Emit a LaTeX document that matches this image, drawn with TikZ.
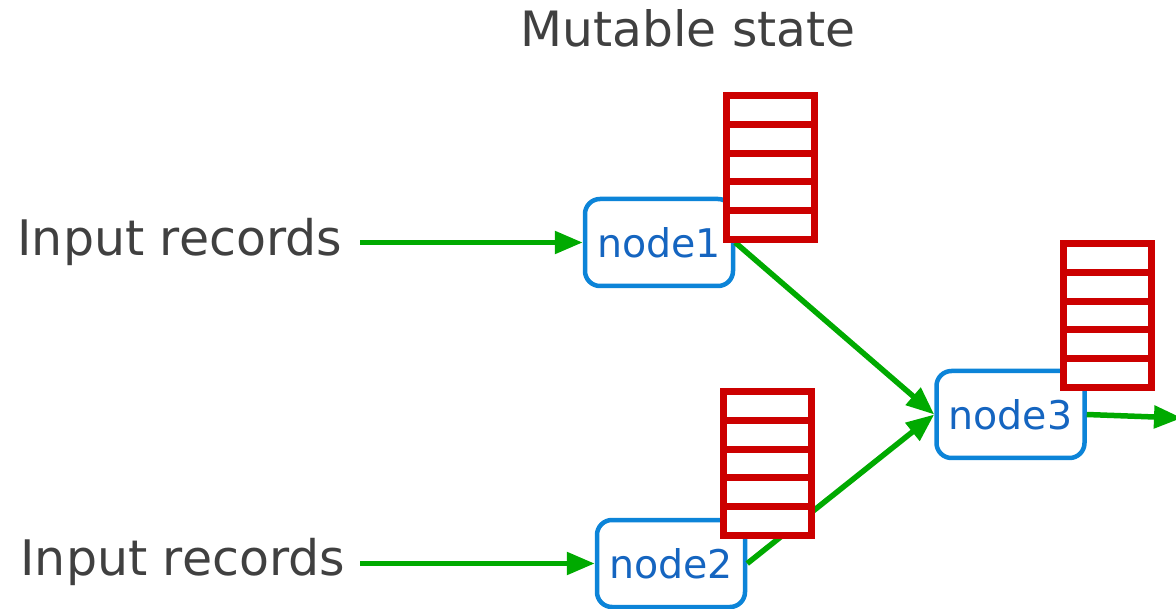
\documentclass[tikz,border=0pt]{standalone}
\usepackage{fontspec}
\setmainfont{DejaVu Sans}
\usetikzlibrary{arrows.meta,calc}

\definecolor{labelgray}{HTML}{404040}
\definecolor{nodetext}{HTML}{1565C0}
\definecolor{boxblue}{HTML}{0C84D8}
\definecolor{statered}{HTML}{CC0000}
\definecolor{flowgreen}{HTML}{00AA00}

\tikzset{
  caption/.style={inner sep=0pt, outer sep=0pt, text=labelgray,
    font=\fontsize{49}{58}\selectfont},
  procbox/.style={draw=boxblue, line width=4.5pt, rounded corners=15pt,
    fill=white, minimum width=148pt, minimum height=87pt, inner sep=0pt,
    text=nodetext, font=\fontsize{39.5}{46}\selectfont},
  stack/.style={draw=statered, line width=7pt, fill=white,
    minimum width=88pt, minimum height=144pt, inner sep=0pt, outer sep=0pt},
  stackline/.style={draw=statered, line width=7pt},
  flow/.style={draw=flowgreen, line width=5.5pt,
    -{Triangle[length=28pt,width=22pt,fill=flowgreen]}},
}

\begin{document}
\begin{tikzpicture}[x=1pt,y=-1pt]
\useasboundingbox (0,0) rectangle (1176,609);

% heading
\node[caption, anchor=base, font=\fontsize{48.7}{58}\selectfont] (title) at (688,47) {Mutable state};

% source labels
\node[caption, anchor=base west] (lab1) at (17.5,256) {Input records};
\node[caption, anchor=base west] (lab2) at (20.5,575) {Input records};

% processing nodes
\node[procbox] (n1) at (659,242.5) {node1};
\node[procbox] (n2) at (671,563.5) {node2};
\node[procbox] (n3) at (1010.5,414.5) {node3};

% free ends of the input and output connectors
\coordinate (in1) at (360,242.5);
\coordinate (in2) at (360,563.5);
\coordinate (out) at (1182,418);

% data flow
\draw[flow] (in1) -- (n1.west);
\draw[flow] (in2) -- (n2.west);
\draw[flow] (n1.east) -- (n3.west);
\draw[flow] (n2.east) -- (n3.west);
\draw[flow] (n3.east) -- (out);

% per-node state tables
\node[stack] (s1) at (770.5,167.5) {};
\node[stack] (s2) at (767.5,463.5) {};
\node[stack] (s3) at (1107,315.5) {};
\foreach \s in {s1,s2,s3}{
  \foreach \k in {1,...,4}{
    \draw[stackline] ($(\s.north west)!\k/5!(\s.south west)$) --
                     ($(\s.north east)!\k/5!(\s.south east)$);
  }
}
\end{tikzpicture}
\end{document}
